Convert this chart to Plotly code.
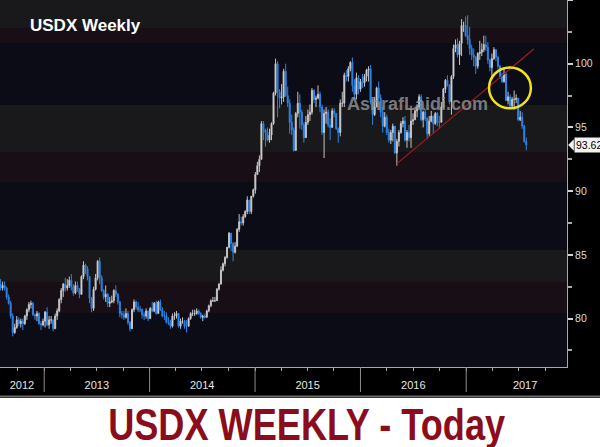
import pandas as pd
import plotly.graph_objects as go

# ---------------- data: weekly USDX bars (Friday dates) ----------------
first_open = 82.7

close_2012 = [82.4, 82.6, 82.4, 81.7, 81.2, 80.2, 78.9, 79.3, 79.9, 79.6, 79.8, 79.6,
              80.2, 80.7, 81.1, 81.2, 80.3, 80.2, 80.4, 79.6, 79.5, 79.8]
high_2012 = [83.1, 82.9, 82.9, 82.5, 81.9, 81.4, 80.4, 79.6, 80.2, 80.1, 80.0, 80.0,
             80.3, 80.8, 81.3, 81.4, 81.3, 80.4, 80.6, 80.5, 79.8, 80.0]
low_2012 = [82.2, 82.2, 82.2, 81.5, 81.1, 80.0, 78.6, 78.8, 79.2, 79.4, 79.3, 79.1,
            79.5, 79.9, 80.5, 80.8, 80.2, 79.9, 79.8, 79.5, 79.1, 79.4]

close_2013 = [80.5, 79.5, 79.9, 79.9, 79.2, 80.2, 80.6, 81.5, 82.2, 82.7, 82.4, 82.6, 83.0,
              82.5, 82.0, 82.6, 82.3, 81.9, 83.3, 84.2, 83.9, 83.3, 81.6, 80.8, 82.3, 83.2,
              84.5, 83.2, 82.2, 81.7, 81.9, 81.2, 81.3, 81.4, 82.2, 81.9, 81.3, 80.4, 80.3,
              80.1, 80.4, 79.7, 79.2, 80.7, 81.3, 80.9, 80.7, 80.7, 80.3, 80.2, 80.6, 80.0]
high_2013 = [80.6, 80.9, 80.2, 80.2, 79.9, 80.4, 80.8, 81.6, 82.4, 82.8, 83.2, 83.1, 83.3,
             83.5, 82.7, 82.9, 82.9, 82.4, 83.4, 84.5, 84.3, 84.1, 83.3, 81.7, 82.5, 83.5,
             84.6, 84.8, 83.4, 82.3, 82.6, 82.0, 81.7, 81.8, 82.3, 82.6, 82.0, 81.4, 80.6,
             80.6, 80.8, 80.6, 79.8, 80.8, 81.5, 81.4, 81.3, 81.0, 80.8, 80.5, 80.8, 80.6]
low_2013 = [79.3, 79.4, 79.2, 79.6, 79.0, 79.2, 79.9, 80.5, 81.2, 81.7, 82.1, 82.2, 82.4,
            82.2, 81.8, 81.9, 82.1, 81.6, 81.9, 83.1, 83.5, 83.0, 81.2, 80.5, 80.6, 82.2,
            83.0, 82.7, 82.1, 81.5, 81.3, 80.9, 80.9, 81.2, 81.2, 81.7, 81.1, 80.1, 80.0,
            79.9, 80.0, 79.5, 79.0, 79.2, 80.5, 80.7, 80.5, 80.5, 80.0, 79.9, 80.0, 79.8]

close_2014 = [80.8, 80.6, 81.2, 80.4, 81.3, 80.7, 80.2, 80.2, 79.7, 79.7, 79.4, 80.2, 80.2,
              80.4, 79.4, 79.8, 79.8, 79.4, 79.4, 80.0, 80.4, 80.4, 80.4, 80.6, 80.4, 80.1,
              80.2, 80.1, 80.6, 81.0, 81.4, 81.4, 81.4, 82.3, 82.7, 83.8, 84.3, 84.8, 85.6,
              86.7, 85.9, 85.2, 85.7, 87.0, 87.6, 87.5, 88.0, 88.4, 89.3, 88.4, 89.6, 90.1]
high_2014 = [80.9, 81.3, 81.3, 81.4, 81.4, 81.5, 80.9, 80.6, 80.5, 80.1, 79.9, 80.4, 80.5,
             80.6, 80.4, 80.0, 80.1, 79.9, 79.9, 80.1, 80.5, 80.7, 80.7, 80.8, 80.7, 80.5,
             80.3, 80.4, 80.7, 81.1, 81.5, 81.7, 81.7, 82.4, 82.8, 84.1, 84.4, 84.9, 85.6,
             86.8, 86.5, 86.0, 86.0, 87.1, 88.2, 88.0, 88.2, 88.5, 89.6, 89.3, 89.6, 90.2]
low_2014 = [80.0, 80.5, 80.5, 80.3, 80.4, 80.6, 80.1, 79.9, 79.6, 79.5, 79.2, 79.3, 79.9,
            80.0, 79.3, 79.2, 79.6, 79.2, 78.9, 79.4, 79.9, 80.2, 80.2, 80.3, 80.3, 80.0,
            79.8, 80.0, 80.1, 80.5, 80.9, 81.3, 81.3, 81.4, 82.2, 82.7, 83.7, 84.1, 84.7,
            85.5, 85.3, 84.5, 85.1, 85.6, 86.8, 87.3, 87.3, 87.9, 88.2, 88.2, 88.2, 89.5]

close_2015 = [91.3, 92.0, 92.5, 95.3, 94.8, 94.6, 94.0, 94.4, 95.3, 97.7, 100.0, 97.8, 97.3,
              97.4, 99.4, 97.5, 96.9, 95.4, 94.8, 93.2, 96.1, 96.9, 96.2, 95.2, 94.2, 95.4,
              96.0, 96.2, 97.9, 97.2, 97.3, 97.6, 96.6, 94.6, 96.1, 96.2, 95.2, 95.0, 96.3,
              96.1, 94.9, 94.6, 96.9, 96.9, 99.1, 99.0, 99.6, 100.1, 98.3, 97.6, 98.9, 98.0]
high_2015 = [91.5, 92.3, 92.8, 95.5, 95.5, 94.9, 95.0, 94.9, 95.4, 97.8, 100.4, 100.2, 98.0,
             98.4, 99.6, 100.0, 98.2, 97.2, 96.0, 95.0, 96.2, 97.8, 97.6, 96.4, 95.4, 95.9,
             96.4, 96.8, 98.1, 98.0, 97.5, 98.3, 97.8, 96.8, 96.4, 96.6, 96.4, 95.7, 96.5,
             96.5, 96.1, 95.0, 97.2, 97.8, 99.3, 99.5, 99.8, 100.2, 100.5, 98.8, 99.3, 99.1]
low_2015 = [89.8, 91.3, 91.5, 92.6, 94.0, 93.5, 93.9, 93.8, 94.0, 95.2, 97.5, 95.8, 96.5,
            96.8, 97.0, 97.4, 96.6, 94.5, 94.4, 93.1, 93.4, 95.8, 94.9, 94.8, 93.8, 94.2,
            95.2, 95.5, 96.0, 96.9, 96.6, 97.2, 96.2, 94.4, 92.6, 95.3, 95.0, 94.0, 95.0,
            95.8, 94.8, 93.8, 94.3, 96.6, 96.6, 98.6, 98.6, 99.4, 97.8, 97.2, 97.2, 97.6]

close_2016 = [98.6, 98.5, 99.0, 99.5, 99.6, 97.0, 96.0, 96.6, 98.1, 97.3, 96.2, 95.1, 95.8,
              94.6, 94.0, 94.6, 95.1, 93.0, 93.9, 94.6, 95.3, 95.5, 94.0, 94.6, 94.2, 95.5,
              95.6, 96.3, 96.6, 97.4, 95.6, 96.2, 95.7, 94.5, 95.5, 95.9, 95.3, 96.1, 95.4,
              95.4, 96.6, 98.0, 98.7, 98.3, 97.0, 99.0, 101.2, 101.5, 100.7, 101.6, 103.0,
              103.0, 102.2]
high_2016 = [98.8, 99.2, 99.2, 99.6, 99.8, 99.9, 97.2, 97.4, 98.2, 98.6, 97.6, 96.6, 96.2,
             96.0, 94.9, 94.8, 95.3, 95.0, 94.1, 94.8, 95.5, 95.8, 95.9, 94.8, 95.2, 96.7,
             96.1, 96.6, 96.8, 97.6, 97.6, 96.3, 96.4, 95.8, 95.9, 96.3, 95.9, 96.2, 96.2,
             95.9, 97.0, 98.1, 98.8, 99.1, 98.4, 99.1, 101.5, 101.9, 102.0, 101.8, 103.5,
             103.3, 103.7]
low_2016 = [97.8, 98.1, 98.2, 98.6, 98.6, 96.8, 95.2, 95.9, 96.6, 97.1, 95.8, 94.6, 95.0,
            94.4, 93.8, 93.7, 93.9, 92.9, 92.0, 93.5, 94.5, 95.0, 93.9, 93.4, 93.9, 93.4,
            95.2, 95.6, 95.8, 96.5, 95.5, 95.0, 95.5, 94.1, 94.3, 95.4, 94.5, 95.2, 95.1,
            94.9, 95.4, 96.5, 97.7, 98.2, 96.8, 96.0, 98.8, 100.9, 100.5, 99.9, 100.6,
            102.5, 102.1]

close_2017 = [101.9, 101.2, 100.7, 100.5, 99.8, 100.8, 100.9, 101.1, 101.5, 101.3, 100.3,
              99.7, 100.4, 101.1, 100.5, 99.8, 99.0, 98.6, 99.2, 97.1, 97.4, 96.7, 97.2,
              97.2, 97.3, 95.6, 95.8, 95.1, 93.9, 93.626]
high_2017 = [103.8, 102.9, 101.5, 101.2, 100.6, 100.9, 101.8, 101.6, 102.2, 102.2, 101.7,
             100.4, 100.8, 101.3, 101.0, 100.6, 99.9, 99.3, 99.6, 99.4, 97.8, 97.6, 97.4,
             97.9, 97.6, 97.3, 96.3, 96.2, 95.2, 94.2]
low_2017 = [101.5, 100.7, 100.3, 99.8, 99.2, 99.6, 100.3, 100.6, 100.9, 101.0, 100.0,
            99.4, 98.9, 100.3, 100.2, 99.6, 98.8, 98.5, 98.5, 97.1, 96.8, 96.6, 96.5,
            96.4, 96.9, 95.5, 95.5, 94.9, 93.8, 93.2]

years = [2012, 2013, 2014, 2015, 2016, 2017]
first_friday = {2012: "2012-08-03", 2013: "2013-01-04", 2014: "2014-01-03",
                2015: "2015-01-02", 2016: "2016-01-01", 2017: "2017-01-06"}
closes_by_year = [close_2012, close_2013, close_2014, close_2015, close_2016, close_2017]
highs_by_year = [high_2012, high_2013, high_2014, high_2015, high_2016, high_2017]
lows_by_year = [low_2012, low_2013, low_2014, low_2015, low_2016, low_2017]

dates, closes, highs, lows = [], [], [], []
for yr, c, h, l in zip(years, closes_by_year, highs_by_year, lows_by_year):
    assert len(c) == len(h) == len(l), yr
    d = pd.date_range(first_friday[yr], periods=len(c), freq="W-FRI")
    assert d[-1].year == yr, yr
    dates += list(d)
    closes += c
    highs += h
    lows += l
# weekly open = previous week's close
opens = [first_open] + closes[:-1]

year_labels = ["2012", "2013", "2014", "2015", "2016", "2017"]
year_label_pos = ["2012-10-16", "2013-07-02", "2014-07-02", "2015-07-02",
                  "2016-07-02", "2017-07-24"]
y_ticks = [80, 85, 90, 95, 100, 105]

# ---------------- figure ----------------
PLOT_H = 367.0
SANS = "Liberation Sans, Arial, Helvetica, sans-serif"

fig = go.Figure()
fig.add_trace(go.Candlestick(
    x=dates, open=opens, high=highs, low=lows, close=closes,
    increasing=dict(line=dict(color="#c4c4c4", width=1), fillcolor="#f0f0f0"),
    decreasing=dict(line=dict(color="#2c84e8", width=1), fillcolor="#2c84e8"),
    whiskerwidth=0, showlegend=False, hoverinfo="skip",
))

shapes = []
# subtle horizontal background bands (pixel rows of plot area)
band_cols = {"g": "#19191b", "m": "#170f15", "n": "#0b0c16"}
bands = [(0, 28, "g"), (28, 43, "m"), (43, 105, "n"), (105, 152, "g"), (152, 182, "m"),
         (182, 250, "n"), (250, 282, "g"), (282, 313, "m"), (313, 367, "n")]
for a, b, k in bands:
    shapes.append(dict(type="rect", xref="paper", yref="paper", x0=0, x1=1,
                       y0=1 - b / PLOT_H, y1=1 - a / PLOT_H, fillcolor=band_cols[k],
                       line=dict(width=0), layer="below"))
# year separators in the label band
for yr in [2013, 2014, 2015, 2016, 2017]:
    shapes.append(dict(type="line", xref="x", yref="paper", x0=f"{yr}-01-01",
                       x1=f"{yr}-01-01", y0=0, y1=-(392 - 367) / PLOT_H,
                       line=dict(color="#8c8c8c", width=1)))
# white caption band + grey divider
shapes.append(dict(type="rect", xref="paper", yref="paper", x0=-0.01, x1=1.07,
                   y0=-0.25, y1=-(398 - 367) / PLOT_H, fillcolor="white",
                   line=dict(width=0)))
shapes.append(dict(type="line", xref="paper", yref="paper", x0=-0.01, x1=1.07,
                   y0=-(396.5 - 367) / PLOT_H, y1=-(396.5 - 367) / PLOT_H,
                   line=dict(color="#6c6c6c", width=2)))
# trend line and highlight circle
shapes.append(dict(type="line", xref="x", yref="y", x0="2016-05-06", y0=92.16,
                   x1="2017-08-23", y1=101.15, line=dict(color="#a01c1c", width=1.2)))
shapes.append(dict(type="circle", xref="x", yref="y", x0="2017-03-21", x1="2017-08-13",
                   y0=96.5, y1=99.7, line=dict(color="#f2e21e", width=2.5)))
# last price marker arrow
last = closes[-1]
shapes.append(dict(type="path", xref="paper", yref="y",
                   path=f"M 1.002,{last} L 1.012,{last + 0.45} L 1.012,{last - 0.45} Z",
                   fillcolor="#f2f2f2", line=dict(width=0)))

annotations = [
    dict(text="<b>USDX Weekly</b>", xref="paper", yref="paper", x=28 / 567, y=1 - 25 / PLOT_H,
         xanchor="left", yanchor="middle", showarrow=False,
         font=dict(family=SANS, size=17, color="white")),
    dict(text="<b>AshrafLaidi.com</b>", xref="paper", yref="paper", x=417 / 567,
         y=1 - 104 / PLOT_H, xanchor="center", yanchor="middle", showarrow=False,
         font=dict(family=SANS, size=18, color="rgba(150,150,150,0.8)")),
    dict(text=f"{last:.3f}", xref="paper", yref="y", x=1.012, y=last, xanchor="left",
         yanchor="middle", showarrow=False, bgcolor="#f2f2f2", borderpad=1,
         font=dict(family=SANS, size=10.5, color="black")),
    dict(text="<b>USDX WEEKLY - Today</b>", xref="paper", yref="paper", x=306.5 / 567,
         y=-(424 - 367) / PLOT_H, xanchor="center", yanchor="middle", showarrow=False,
         font=dict(family=SANS, size=44, color="#8b0c1b")),
]

fig.update_layout(
    width=600, height=447,
    margin=dict(l=0, r=33, t=0, b=80, pad=0),
    paper_bgcolor="black", plot_bgcolor="#0b0c16",
    shapes=shapes, annotations=annotations, showlegend=False,
    xaxis=dict(
        type="date", range=["2012-08-01", "2017-12-16"], rangeslider=dict(visible=False),
        showgrid=False, zeroline=False, showline=True, linecolor="#a8a8a8", linewidth=1,
        tickmode="array", tickvals=year_label_pos, ticktext=year_labels, ticks="",
        ticklabelstandoff=8,
        tickfont=dict(family=SANS, size=11, color="#e6e6e6"),
        minor=dict(ticks="outside", dtick="M3", tick0="2012-01-01", ticklen=3,
                   tickcolor="#a8a8a8", showgrid=False),
    ),
    yaxis=dict(
        side="right", range=[76.2, 105.0], tickmode="array", tickvals=y_ticks,
        showgrid=False, zeroline=False, showline=True, linecolor="#a8a8a8", linewidth=1,
        ticks="outside", ticklen=5, tickwidth=2, tickcolor="#d0d0d0",
        tickfont=dict(family=SANS, size=10.5, color="#dcdcdc"),
        minor=dict(ticks="outside", dtick=2.5, tick0=0, ticklen=4, tickcolor="#a8a8a8",
                   showgrid=False),
    ),
)

# page tweaks: no body margin; condense the caption like the original narrow type
post_js = """
document.body.style.margin = '0';
document.querySelectorAll('text.annotation-text').forEach(function (t) {
  if (t.textContent.indexOf('USDX WEEKLY') === 0) {
    t.setAttribute('textLength', '397');
    t.setAttribute('lengthAdjust', 'spacingAndGlyphs');
  }
});
"""

fig.write_html("out.html", post_script=post_js,
               config={"displayModeBar": False, "staticPlot": True})
